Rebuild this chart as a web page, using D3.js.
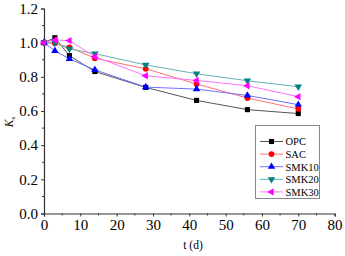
<!DOCTYPE html>
<html>
<head>
<meta charset="utf-8">
<script src="https://cdn.jsdelivr.net/npm/d3@7"></script>
<style>
  body { margin: 0; background: #fff; }
  svg, svg text { font-family: "Liberation Serif", "Times New Roman", serif !important; }
</style>
</head>
<body>
<svg id="chart" width="345" height="256"></svg>
<script>
const days = [0, 3, 7, 14, 28, 42, 56, 70];
const opc   = [1.0, 1.029, 0.924, 0.831, 0.738, 0.662, 0.608, 0.585];
const sac   = [1.0, 0.996, 0.973, 0.909, 0.847, 0.758, 0.676, 0.612];
const smk10 = [1.0, 0.952, 0.905, 0.841, 0.740, 0.728, 0.691, 0.637];
const smk20 = [1.0, 1.0, 0.963, 0.936, 0.870, 0.818, 0.777, 0.742];
const smk30 = [1.0, 1.016, 1.012, 0.918, 0.806, 0.779, 0.748, 0.684];
const seriesNames = ["OPC", "SAC", "SMK10", "SMK20", "SMK30"];
const xTicks = [0, 10, 20, 30, 40, 50, 60, 70, 80];
const yTicks = [0.0, 0.2, 0.4, 0.6, 0.8, 1.0, 1.2];

const series = [
  {name: seriesNames[0], vals: opc,   color: "#000000", line: "#555555", sym: d3.symbolSquare, rot: 0, size: 26},
  {name: seriesNames[1], vals: sac,   color: "#ff0000", line: "#ff7070", sym: d3.symbolCircle, rot: 0, size: 26},
  {name: seriesNames[2], vals: smk10, color: "#0000ff", line: "#7070ff", sym: d3.symbolTriangle, rot: 0, size: 24},
  {name: seriesNames[3], vals: smk20, color: "#008080", line: "#66b3b3", sym: d3.symbolTriangle, rot: 180, size: 24},
  {name: seriesNames[4], vals: smk30, color: "#ff00ff", line: "#ff70ff", sym: d3.symbolTriangle, rot: -90, size: 24}
];

const svg = d3.select("#chart");
const x = d3.scaleLinear().domain([0, 80]).range([44, 334.6]);
const y = d3.scaleLinear().domain([0, 1.2]).range([213.5, 8.5]);

// axes
const xAxis = d3.axisBottom(x).tickValues(xTicks).tickFormat(d3.format("d")).tickSize(3).tickPadding(3);
const gx = svg.append("g").attr("transform", `translate(0,${y(0)})`).call(xAxis);
gx.attr("font-family", null);
gx.selectAll(".domain").attr("stroke", "#333").attr("stroke-width", 1.2);
gx.selectAll(".tick line").attr("stroke", "#333");
gx.selectAll("text").attr("font-size", 15).attr("fill", "#000");
gx.append("g").selectAll("line").data(d3.range(5, 80, 10)).enter().append("line")
  .attr("x1", d => x(d)).attr("x2", d => x(d)).attr("y1", 0).attr("y2", 2).attr("stroke", "#333");

const yAxis = d3.axisLeft(y).tickValues(yTicks).tickFormat(d3.format(".1f")).tickSize(3).tickPadding(3);
const gy = svg.append("g").attr("transform", `translate(${x(0)},0)`).call(yAxis);
gy.attr("font-family", null);
gy.selectAll(".domain").attr("stroke", "#333").attr("stroke-width", 1.2);
gy.selectAll(".tick line").attr("stroke", "#333");
gy.selectAll("text").attr("font-size", 15).attr("fill", "#000");
gy.append("g").selectAll("line").data(d3.range(0.1, 1.2, 0.2)).enter().append("line")
  .attr("y1", d => y(d)).attr("y2", d => y(d)).attr("x1", 0).attr("x2", -2).attr("stroke", "#333");

// axis titles
svg.append("text").attr("x", 193).attr("y", 249).attr("text-anchor", "middle")
  .attr("font-size", 11.5).text("t (d)");
const yl = svg.append("text").attr("transform", "translate(13,122) rotate(-90)")
  .attr("text-anchor", "middle").attr("font-size", 11.5).attr("font-style", "italic");
yl.append("tspan").text("K");
yl.append("tspan").attr("font-size", 7).attr("dy", 2).attr("font-style", "normal").text("s");

// series
const line = d3.line().x((d, i) => x(days[i])).y(d => y(d));
series.forEach(s => {
  svg.append("path").datum(s.vals).attr("d", line)
    .attr("fill", "none").attr("stroke", s.line).attr("stroke-width", 1);
});
series.forEach(s => {
  svg.append("g").selectAll("path").data(s.vals).enter().append("path")
    .attr("d", d3.symbol().type(s.sym).size(s.size))
    .attr("transform", (d, i) => `translate(${x(days[i])},${y(d)}) rotate(${s.rot})`)
    .attr("fill", s.color);
});

// legend
const lg = svg.append("g");
lg.append("rect").attr("x", 255.5).attr("y", 125.5).attr("width", 64).attr("height", 73)
  .attr("fill", "#fff").attr("stroke", "#888").attr("stroke-width", 1);
series.forEach((s, i) => {
  const yy = 141.5 + i * 12.6;
  lg.append("line").attr("x1", 260).attr("x2", 283).attr("y1", yy).attr("y2", yy)
    .attr("stroke", s.line).attr("stroke-width", 1);
  lg.append("path").attr("d", d3.symbol().type(s.sym).size(s.size))
    .attr("transform", `translate(271.5,${yy}) rotate(${s.rot})`).attr("fill", s.color);
  lg.append("text").attr("x", 285.5).attr("y", yy + 3.8).attr("font-size", 10.5).text(s.name);
});
</script>
</body>
</html>
